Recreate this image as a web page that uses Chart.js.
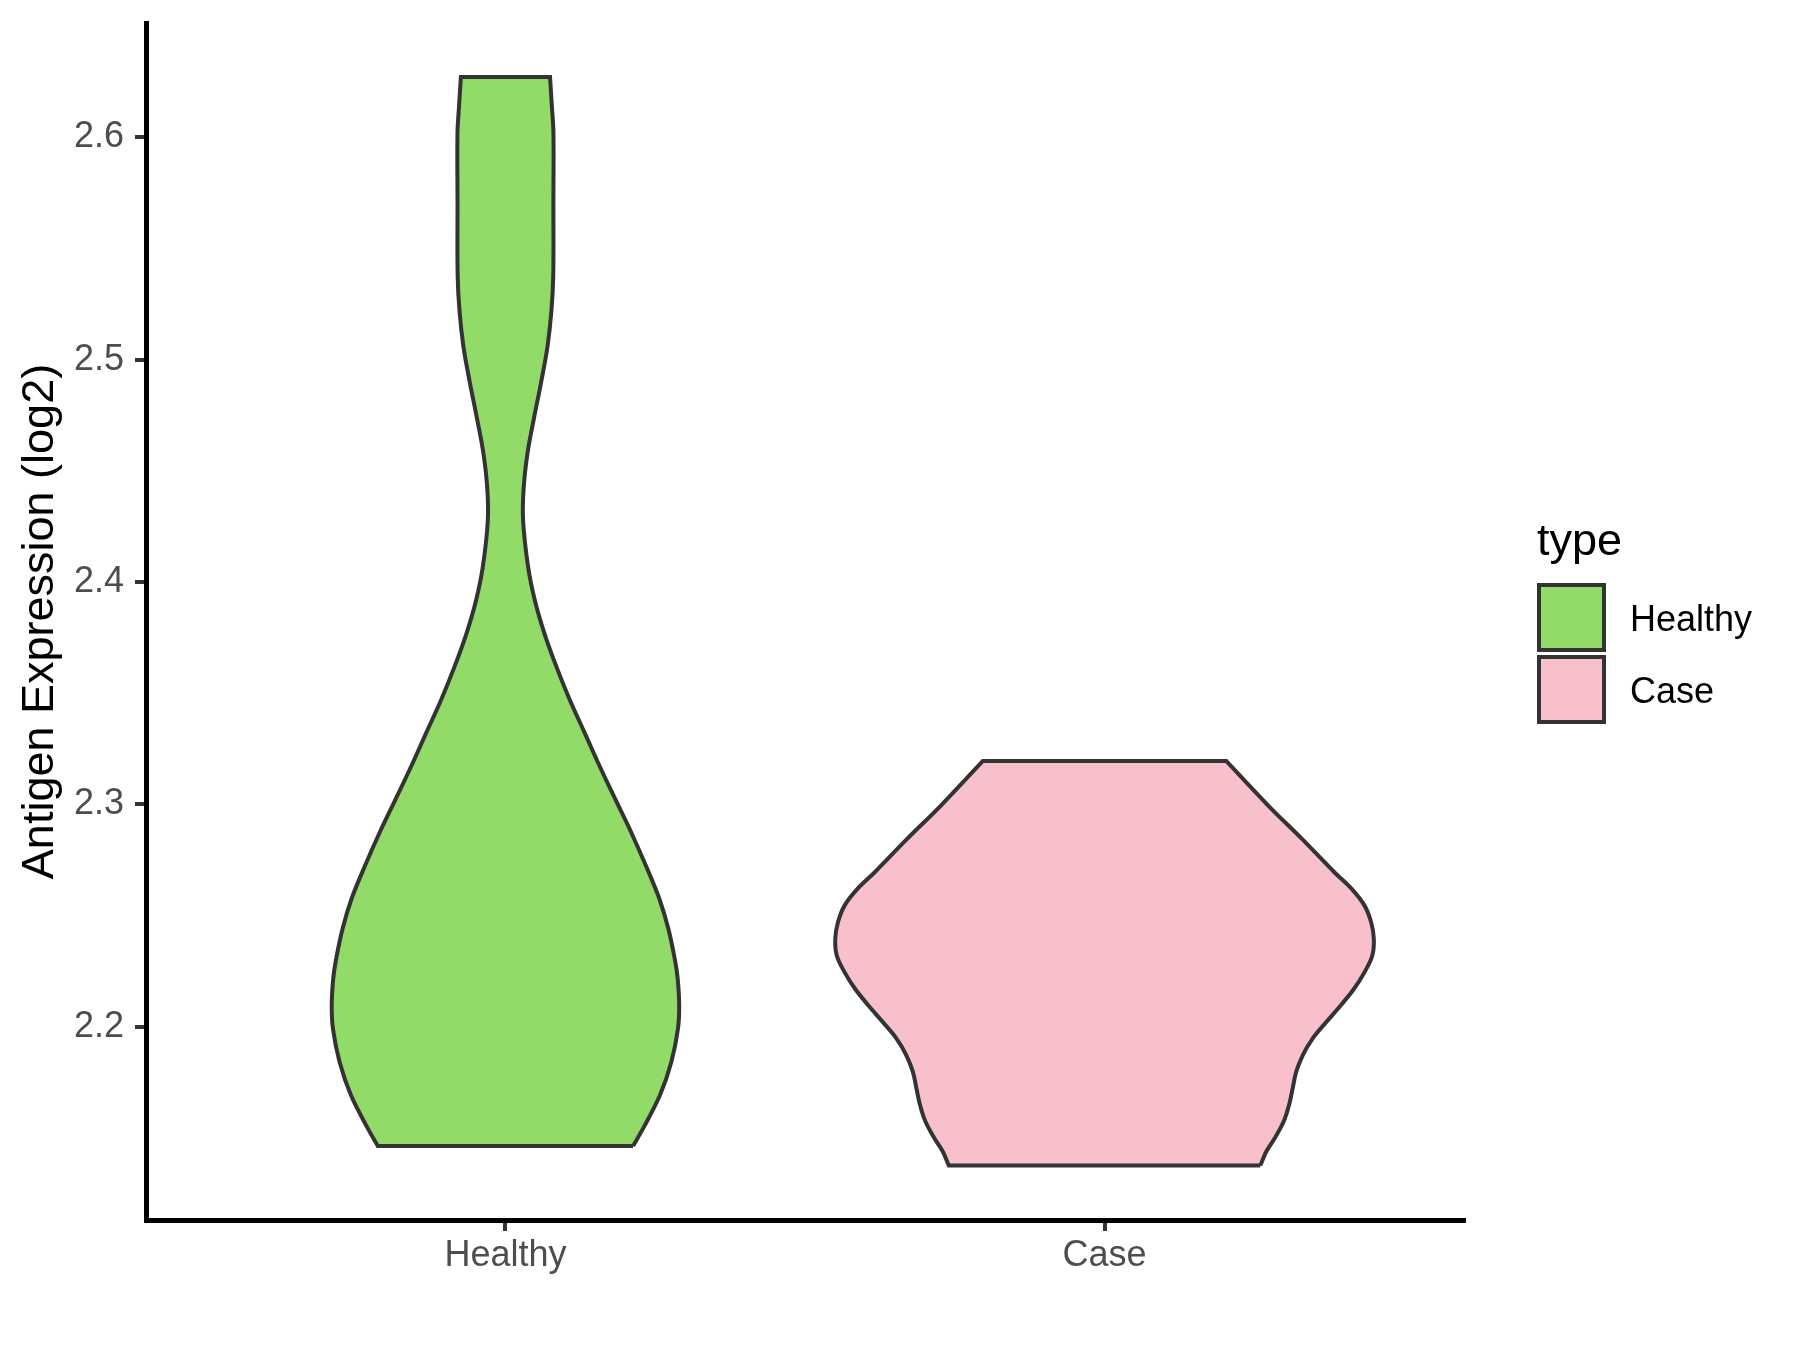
<!DOCTYPE html>
<html>
<head>
<meta charset="utf-8">
<script src="https://cdn.jsdelivr.net/npm/chart.js@4.4.1/dist/chart.umd.min.js"></script>
<style>
  html, body { margin: 0; padding: 0; background: #fff; }
  #wrap { width: 1800px; height: 1350px; }
</style>
</head>
<body>
<div id="wrap"><canvas id="chart" width="1800" height="1350"></canvas></div>
<script>
// categories and colours
const categories = ['Healthy', 'Case'];
const fillColors = ['#93DB69', '#F8C0CB'];
const yTicks = [2.2, 2.3, 2.4, 2.5, 2.6];
const yMin = 2.1131;
const yMax = 2.6515;

// violin outlines: level (log2) and half width (category units), top to bottom
const healthyLevels = [2.6272, 2.614, 2.602, 2.570, 2.538, 2.522, 2.506, 2.490, 2.474, 2.458,
  2.442, 2.4275, 2.4069, 2.392, 2.377, 2.362, 2.3471, 2.3322, 2.3172, 2.3023,
  2.2874, 2.2724, 2.2575, 2.2440, 2.2300, 2.2216, 2.2097, 2.1992, 2.1843, 2.1693,
  2.1544, 2.1464];
const healthyHalfWidths = [0.0744, 0.0775, 0.0801, 0.0800, 0.0798, 0.0767, 0.0702, 0.0596, 0.0478, 0.0368,
  0.0303, 0.0295, 0.0378, 0.0489, 0.0650, 0.0850, 0.1073, 0.1323, 0.1573, 0.1835,
  0.2100, 0.2345, 0.2570, 0.2720, 0.2830, 0.2875, 0.2900, 0.2880, 0.2770, 0.2580,
  0.2300, 0.2130];

const caseLevels = [2.3196, 2.2993, 2.2844, 2.2694, 2.2620, 2.2545, 2.2470, 2.2396, 2.2321, 2.2246,
  2.2171, 2.2097, 2.2021, 2.1946, 2.1873, 2.1798, 2.1723, 2.1648, 2.1574, 2.1499,
  2.1439, 2.1376];
const caseHalfWidths = [0.2030, 0.2740, 0.3300, 0.3840, 0.4125, 0.4340, 0.4450, 0.4495, 0.4470, 0.4340,
  0.4165, 0.3945, 0.3700, 0.3470, 0.3310, 0.3200, 0.3140, 0.3080, 0.2990, 0.2840,
  0.2700, 0.2600];

const FONT = '"Liberation Sans", Arial, sans-serif';

// closed outline: right side bottom->top, then left side top->bottom.
// corner points are doubled so the spline keeps the flat ends sharp
function violinPoints(center, levels, halfWidths) {
  const n = levels.length;
  const pts = [];
  for (let i = n - 1; i >= 0; i--) {
    const p = { x: center + halfWidths[i], y: levels[i] };
    pts.push(p);
    if (i === n - 1 || i === 0) pts.push({ ...p });
  }
  for (let i = 0; i < n; i++) {
    const p = { x: center - halfWidths[i], y: levels[i] };
    pts.push(p);
    if (i === 0 || i === n - 1) pts.push({ ...p });
  }
  pts.push({ ...pts[0] });
  return pts;
}

function violinDataset(idx, levels, halfWidths) {
  return {
    label: categories[idx],
    data: violinPoints(idx + 1, levels, halfWidths),
    showLine: true,
    fill: 'shape',
    backgroundColor: fillColors[idx],
    borderColor: '#333333',
    borderWidth: 4,
    borderJoinStyle: 'miter',
    tension: 0.35,
    pointRadius: 0,
    pointHoverRadius: 0,
  };
}

// legend drawn beside the panel
const legendPlugin = {
  id: 'typeLegend',
  afterDraw(chart) {
    const ctx = chart.ctx;
    ctx.save();
    ctx.fillStyle = '#000';
    ctx.font = '45px ' + FONT;
    ctx.textBaseline = 'alphabetic';
    ctx.textAlign = 'left';
    ctx.fillText('type', 1537, 555);
    categories.forEach((name, i) => {
      const y = 585 + i * 72;
      ctx.fillStyle = fillColors[i];
      ctx.fillRect(1539, y, 65, 65);
      ctx.lineWidth = 4;
      ctx.strokeStyle = '#333333';
      ctx.strokeRect(1539, y, 65, 65);
      ctx.fillStyle = '#000';
      ctx.font = '36px ' + FONT;
      ctx.textBaseline = 'middle';
      ctx.fillText(name, 1630, y + 36);
    });
    ctx.restore();
  }
};

new Chart(document.getElementById('chart'), {
  type: 'scatter',
  data: {
    datasets: [
      violinDataset(0, healthyLevels, healthyHalfWidths),
      violinDataset(1, caseLevels, caseHalfWidths),
    ]
  },
  options: {
    responsive: false,
    devicePixelRatio: 1,
    animation: false,
    layout: { padding: { left: 0, right: 336, top: 23, bottom: 0 } },
    plugins: {
      legend: { display: false },
      tooltip: { enabled: false },
    },
    scales: {
      x: {
        type: 'linear',
        min: 0.4,
        max: 2.6,
        afterFit: (scale) => {
          scale.height = 130;
          scale.paddingLeft = 0;
          scale.paddingRight = 0;
        },
        afterBuildTicks: (scale) => { scale.ticks = categories.map((c, i) => ({ value: i + 1 })); },
        ticks: {
          callback: (v, i) => categories[i],
          font: { family: FONT, size: 36 },
          color: '#4D4D4D',
          padding: 3,
          maxRotation: 0,
          autoSkip: false,
        },
        grid: { drawOnChartArea: false, drawTicks: true, tickLength: 11, tickColor: '#333333', tickWidth: 4, lineWidth: 4, color: '#333333' },
        border: { display: true, color: '#000', width: 5 },
      },
      y: {
        type: 'linear',
        min: yMin,
        max: yMax,
        afterFit: (scale) => {
          scale.width = 146;
          scale.paddingTop = 0;
          scale.paddingBottom = 0;
        },
        afterBuildTicks: (scale) => { scale.ticks = yTicks.map((v) => ({ value: v })); },
        ticks: {
          callback: (v) => v.toFixed(1),
          font: { family: FONT, size: 36 },
          color: '#4D4D4D',
          padding: 11,
          autoSkip: false,
        },
        title: {
          display: true,
          text: 'Antigen Expression (log2)',
          font: { family: FONT, size: 45 },
          color: '#000',
          padding: { top: 14, bottom: 0 },
        },
        grid: { drawOnChartArea: false, drawTicks: true, tickLength: 11, tickColor: '#333333', tickWidth: 4, lineWidth: 4, color: '#333333' },
        border: { display: true, color: '#000', width: 5 },
      }
    }
  },
  plugins: [legendPlugin]
});
</script>
</body>
</html>
